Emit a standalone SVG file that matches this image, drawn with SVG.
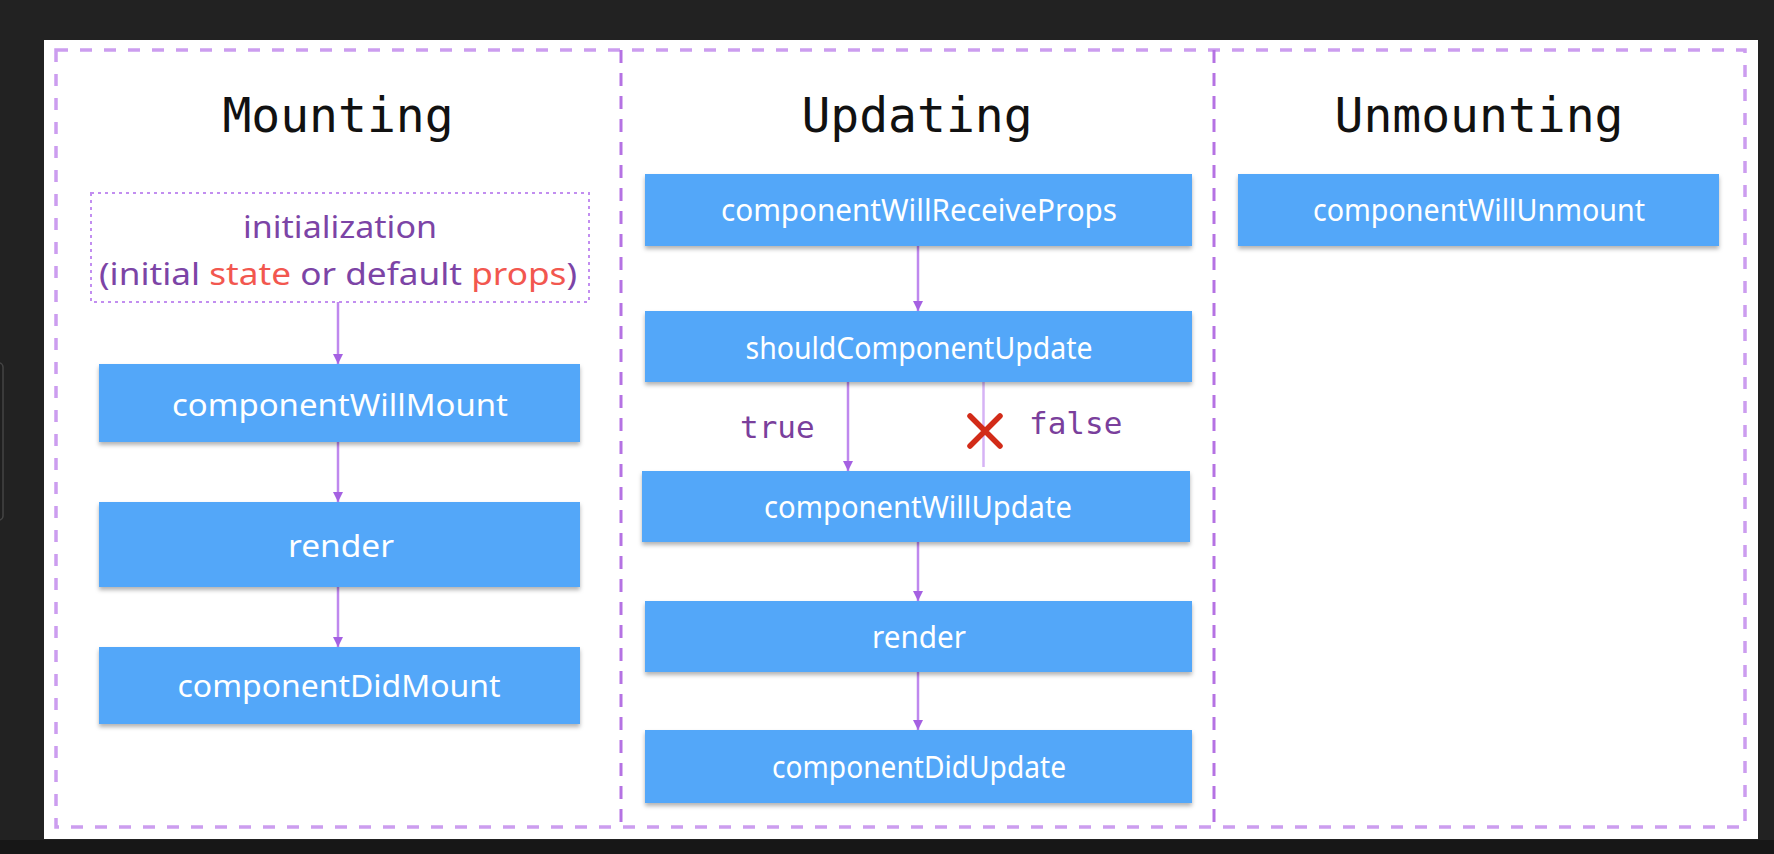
<svg xmlns="http://www.w3.org/2000/svg" width="1774" height="854" viewBox="0 0 1774 854">
<defs>
<style>
.title{font-family:"DejaVu Sans Mono","Liberation Mono",monospace;font-size:48px;fill:#111;text-anchor:middle}
.box{fill:#52a7f9;filter:url(#sh)}
.lbl{font-family:"Noto Sans","DejaVu Sans",sans-serif;font-size:30px;fill:#fff;text-anchor:middle}
.lblm{font-family:"Noto Sans","DejaVu Sans",sans-serif;font-size:31px;fill:#fff;text-anchor:middle}
.cond{font-family:"DejaVu Sans Mono","Liberation Mono",monospace;font-size:31px;fill:#7a3f9c}
.init{font-family:"Noto Sans","DejaVu Sans",sans-serif;font-size:31px;fill:#7c44a6}
.red{fill:#f2574f}
.edge{stroke:#bf88ee;stroke-width:2.5;fill:none;marker-end:url(#ah)}
.outer{fill:none;stroke:#cc9def;stroke-width:3.5;stroke-dasharray:12 12}
.div{stroke:#b572e3;stroke-width:3;stroke-dasharray:13 10}
</style>
<marker id="ah" viewBox="0 0 10 10" refX="10" refY="5" markerWidth="11" markerHeight="10" markerUnits="userSpaceOnUse" orient="auto">
<path d="M0,0 L10,5 L0,10 Z" fill="#a561e2"/>
</marker>
<filter id="sh" x="-5%" y="-10%" width="110%" height="130%">
<feDropShadow dx="0" dy="3" stdDeviation="2" flood-color="#000" flood-opacity="0.3"/>
</filter>
</defs>
<rect x="0" y="0" width="1774" height="854" fill="#222"/>
<rect x="0" y="840" width="1774" height="14" fill="#171717"/>
<rect x="-10" y="363" width="13" height="157" rx="4" fill="#1f1f1f" stroke="#444" stroke-width="1.5"/>
<rect x="44" y="40" width="1714" height="799" fill="#fff"/>
<g id="frame">
<rect class="outer" x="56" y="50" width="1689" height="777"/>
<line class="div" x1="621" y1="50" x2="621" y2="827"/>
<line class="div" x1="1214" y1="50" x2="1214" y2="827"/>
</g>
<g id="titles">
<text class="title" x="338" y="132">Mounting</text>
<text class="title" x="917" y="132">Updating</text>
<text class="title" x="1479" y="132">Unmounting</text>
</g>
<g id="connectors">
<line class="edge" x1="338" y1="302" x2="338" y2="364"/>
<line class="edge" x1="338" y1="442" x2="338" y2="502"/>
<line class="edge" x1="338" y1="587" x2="338" y2="647"/>
<line class="edge" x1="918" y1="246" x2="918" y2="311"/>
<line class="edge" x1="848" y1="382" x2="848" y2="471"/>
<line x1="983.5" y1="382" x2="983.5" y2="467" stroke="#d6b3f5" stroke-width="2.5"/>
<line class="edge" x1="918" y1="542" x2="918" y2="601"/>
<line class="edge" x1="918" y1="672" x2="918" y2="730"/>
<text class="cond" x="740" y="438">true</text>
<text class="cond" x="1029" y="434">false</text>
<path d="M970,416 L1000,446 M1000,416 L970,446" stroke="#d22b18" stroke-width="5.5" stroke-linecap="round"/>
</g>
<g id="init">
<rect x="91" y="193" width="498" height="109" fill="none" stroke="#c28ef0" stroke-width="2" stroke-dasharray="3 4"/>
<text class="init" x="340" y="238" text-anchor="middle" textLength="194" lengthAdjust="spacingAndGlyphs">initialization</text>
<text class="init" x="99" y="285" textLength="478" lengthAdjust="spacingAndGlyphs">(initial <tspan class="red">state</tspan> or default <tspan class="red">props</tspan>)</text>
</g>
<g id="componentWillMount">
<rect class="box" x="99" y="364" width="481" height="78"/>
<text class="lblm" x="340" y="416" textLength="336" lengthAdjust="spacingAndGlyphs">componentWillMount</text>
</g>
<g id="render-mount">
<rect class="box" x="99" y="502" width="481" height="85"/>
<text class="lblm" x="341" y="557" textLength="106" lengthAdjust="spacingAndGlyphs">render</text>
</g>
<g id="componentDidMount">
<rect class="box" x="99" y="647" width="481" height="77"/>
<text class="lblm" x="339" y="697" textLength="323" lengthAdjust="spacingAndGlyphs">componentDidMount</text>
</g>
<g id="componentWillReceiveProps">
<rect class="box" x="645" y="174" width="547" height="72"/>
<text class="lbl" x="919" y="221" textLength="396" lengthAdjust="spacingAndGlyphs">componentWillReceiveProps</text>
</g>
<g id="shouldComponentUpdate">
<rect class="box" x="645" y="311" width="547" height="71"/>
<text class="lbl" x="919" y="359" textLength="347" lengthAdjust="spacingAndGlyphs">shouldComponentUpdate</text>
</g>
<g id="componentWillUpdate">
<rect class="box" x="642" y="471" width="548" height="71"/>
<text class="lbl" x="918" y="518" textLength="308" lengthAdjust="spacingAndGlyphs">componentWillUpdate</text>
</g>
<g id="render-update">
<rect class="box" x="645" y="601" width="547" height="71"/>
<text class="lbl" x="919" y="648" textLength="94" lengthAdjust="spacingAndGlyphs">render</text>
</g>
<g id="componentDidUpdate">
<rect class="box" x="645" y="730" width="547" height="73"/>
<text class="lbl" x="919" y="778" textLength="294" lengthAdjust="spacingAndGlyphs">componentDidUpdate</text>
</g>
<g id="componentWillUnmount">
<rect class="box" x="1238" y="174" width="481" height="72"/>
<text class="lbl" x="1479" y="221" textLength="332" lengthAdjust="spacingAndGlyphs">componentWillUnmount</text>
</g>
</svg>
